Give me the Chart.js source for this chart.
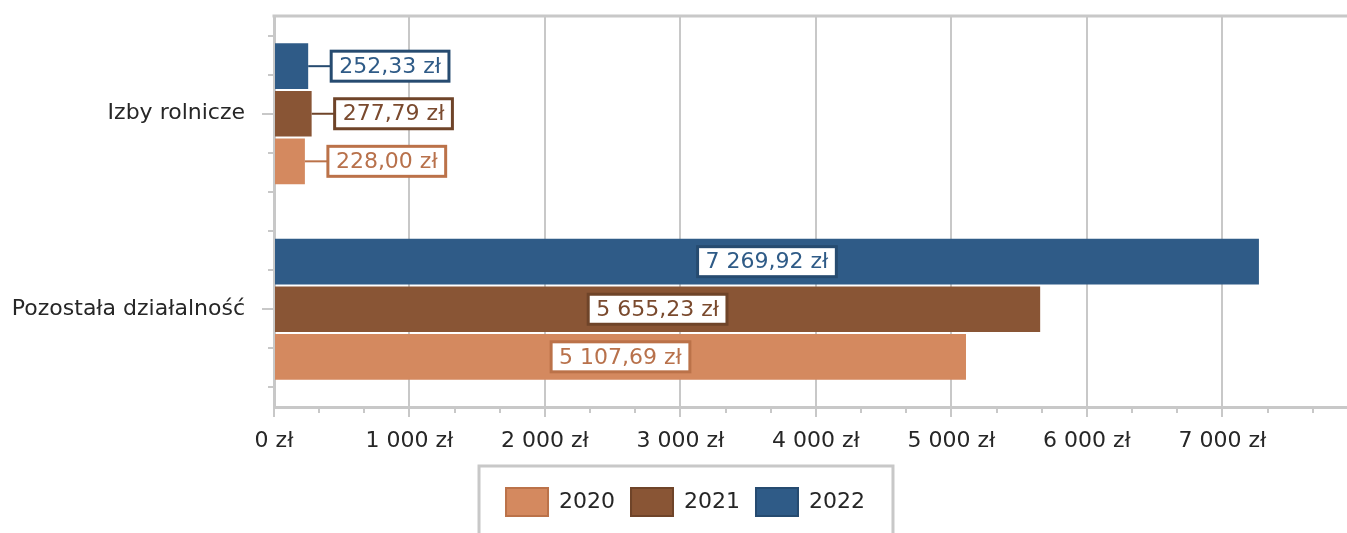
<!DOCTYPE html>
<html><head><meta charset="utf-8">
<script src="https://cdn.jsdelivr.net/npm/chart.js@4"></script>
<style>html,body{margin:0;padding:0;background:#fff}</style>
</head><body>
<canvas id="c" width="1347" height="533"></canvas>
<script>
const categories = ['Izby rolnicze', 'Pozostała działalność'];
const seriesLabels = ['2022', '2021', '2020'];
const values2022 = [252.33, 7269.92];
const values2021 = [277.79, 5655.23];
const values2020 = [228.00, 5107.69];
const xTickValues = [0, 1000, 2000, 3000, 4000, 5000, 6000, 7000];
const xMin = 0;
const xMax = 7920;
const xStep = 1000;

const FONT = '"DejaVu Sans", Verdana, sans-serif';
const GRID = '#c8c8c8';
const TEXT = '#262626';

function fmtInt(v){ return String(Math.round(v)).replace(/\B(?=(\d{3})+(?!\d))/g, ' '); }
function fmtMoney(v){
  const p = v.toFixed(2).split('.');
  return fmtInt(Number(p[0])) + ',' + p[1] + ' zł';
}

const palette = {
  '2022': {fill:'#2f5b87', border:'#264b70', text:'#2f5b87'},
  '2021': {fill:'#895535', border:'#6f4429', text:'#7a4a2e'},
  '2020': {fill:'#d4895f', border:'#bb7249', text:'#b8714b'}
};
const seriesValues = {'2022': values2022, '2021': values2021, '2020': values2020};

const datasets = seriesLabels.map(y => ({
  label: y,
  data: seriesValues[y],
  backgroundColor: palette[y].fill,
  borderWidth: 0,
  categoryPercentage: 0.73,
  barPercentage: 0.96
}));

const decorPlugin = {
  id: 'decor',
  afterLayout(chart){
    if (chart.legend) { chart.legend.left += 12; chart.legend.right += 12; }
  },
  beforeDatasetsDraw(chart){
    const ctx = chart.ctx, ca = chart.chartArea;
    const xs = chart.scales.x, ys = chart.scales.y;
    ctx.save();
    ctx.strokeStyle = GRID;
    ctx.lineWidth = 3;
    ctx.beginPath(); ctx.moveTo(ca.left - 1.5, ca.top); ctx.lineTo(ca.right, ca.top); ctx.stroke();
    ctx.lineWidth = 2;
    for (let k = 0; k * xStep / 3 <= xMax; k++) {
      if (k % 3 === 0) continue;
      const x = Math.round(xs.getPixelForValue(k * xStep / 3));
      ctx.beginPath(); ctx.moveTo(x, ca.bottom); ctx.lineTo(x, ca.bottom + 6); ctx.stroke();
    }
    const band = (ys.bottom - ys.top) / categories.length;
    categories.forEach((c, i) => {
      const cy = ys.getPixelForValue(i);
      [-0.4, -0.2, 0.2, 0.4].forEach(o => {
        const y = Math.round(cy + o * band);
        ctx.beginPath(); ctx.moveTo(ca.left - 6, y); ctx.lineTo(ca.left, y); ctx.stroke();
      });
    });
    ctx.restore();
  },
  afterDatasetsDraw(chart){
    const ctx = chart.ctx;
    ctx.save();
    ctx.font = '22px ' + FONT;
    ctx.textAlign = 'center';
    ctx.textBaseline = 'middle';
    chart.data.datasets.forEach((ds, di) => {
      const meta = chart.getDatasetMeta(di);
      const col = palette[ds.label];
      meta.data.forEach((bar, i) => {
        const text = fmtMoney(ds.data[i]);
        const tw = ctx.measureText(text).width;
        const bw = tw + 16, bh = 30;
        const len = bar.x - bar.base;
        let left;
        if (len > bw + 40) {
          left = (bar.x + bar.base) / 2 - bw / 2;
        } else {
          left = bar.x + 23;
          ctx.strokeStyle = col.border; ctx.lineWidth = 2;
          ctx.beginPath(); ctx.moveTo(bar.x, bar.y); ctx.lineTo(left, bar.y); ctx.stroke();
        }
        const top = bar.y - bh / 2;
        ctx.fillStyle = '#ffffff';
        ctx.fillRect(left, top, bw, bh);
        ctx.strokeStyle = col.border; ctx.lineWidth = 3;
        ctx.strokeRect(left, top, bw, bh);
        ctx.fillStyle = col.text;
        ctx.fillText(text, left + bw / 2, bar.y + 1);
      });
    });
    ctx.restore();
  },
  afterDraw(chart){
    const lg = chart.legend;
    if (!lg || !lg.legendHitBoxes) return;
    const hb = lg.legendHitBoxes;
    const l = Math.min(...hb.map(h => h.left)) - 27;
    const r = Math.max(...hb.map(h => h.left + h.width)) + 28;
    const t = hb[0].top - 22;
    const ctx = chart.ctx;
    ctx.save();
    ctx.strokeStyle = GRID; ctx.lineWidth = 3;
    ctx.beginPath();
    ctx.moveTo(l, chart.height + 5); ctx.lineTo(l, t); ctx.lineTo(r, t); ctx.lineTo(r, chart.height + 5);
    ctx.stroke();
    ctx.restore();
  }
};

new Chart(document.getElementById('c'), {
  type: 'bar',
  data: { labels: categories, datasets },
  options: {
    indexAxis: 'y',
    responsive: false,
    animation: false,
    devicePixelRatio: 1,
    layout: { padding: { left: 0, right: 0, top: 16, bottom: 7 } },
    plugins: {
      tooltip: { enabled: false },
      legend: {
        position: 'bottom',
        reverse: true,
        labels: {
          boxWidth: 42, boxHeight: 28, padding: 16,
          color: TEXT,
          font: { family: FONT, size: 22 },
          generateLabels(chart){
            return chart.data.datasets.map((ds, i) => ({
              text: ds.label,
              fillStyle: palette[ds.label].fill,
              strokeStyle: palette[ds.label].border,
              lineWidth: 2,
              fontColor: TEXT,
              hidden: false,
              datasetIndex: i
            }));
          }
        }
      }
    },
    scales: {
      x: {
        type: 'linear',
        min: xMin, max: xMax,
        afterBuildTicks(s){ s.ticks = xTickValues.map(v => ({ value: v })); },
        afterFit(s){ s.height = 65; s.paddingLeft = 0; s.paddingRight = 0; },
        ticks: {
          padding: 11,
          color: TEXT, font: { family: FONT, size: 22 },
          callback: v => fmtInt(v) + ' zł',
          maxRotation: 0, autoSkip: false
        },
        grid: { color: GRID, lineWidth: 2, tickLength: 10 },
        border: { color: GRID, width: 3 }
      },
      y: {
        afterFit(s){ s.width = 274; s.paddingTop = 0; s.paddingBottom = 0; },
        ticks: { padding: 17, color: TEXT, font: { family: FONT, size: 22 } },
        grid: { offset: false, drawOnChartArea: false, color: GRID, lineWidth: 2, tickLength: 12 },
        border: { color: GRID, width: 3 }
      }
    }
  },
  plugins: [decorPlugin]
});
</script>
</body></html>
